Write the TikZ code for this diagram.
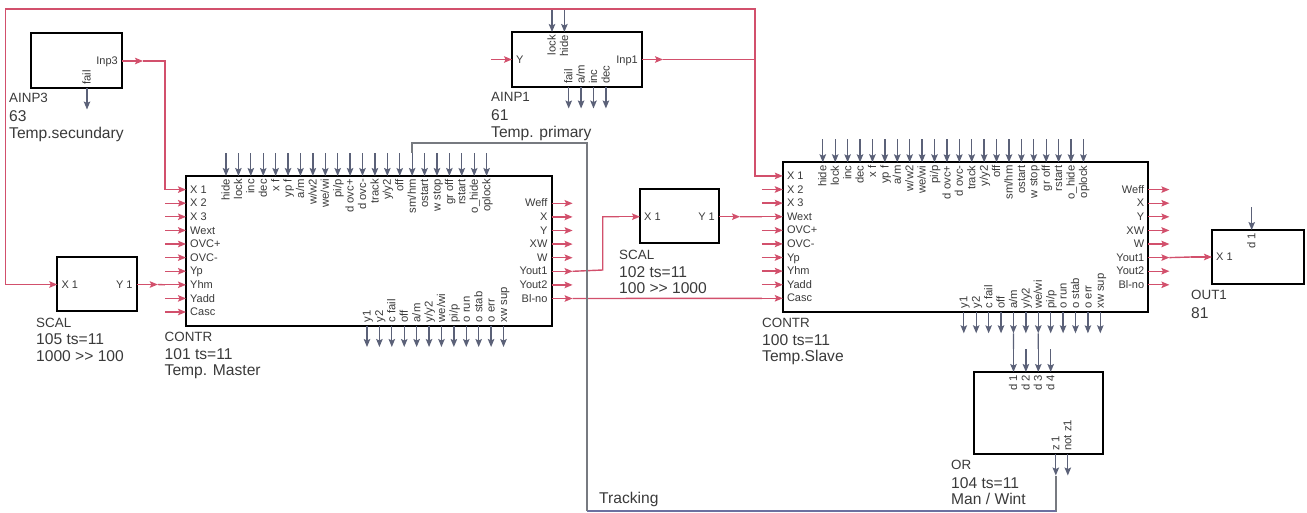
\documentclass[tikz,border=0pt]{standalone}
\usepackage{fontspec}
\setmainfont{Liberation Sans}
\usetikzlibrary{positioning,calc,arrows.meta}
\definecolor{wirered}{HTML}{D2506C}
\definecolor{wiregray}{HTML}{777A80}
\definecolor{wireblue}{HTML}{6C70A0}
\definecolor{pingray}{HTML}{5B6178}
\definecolor{txtgray}{HTML}{3A3A3A}
\tikzset{
  blockbox/.style={draw=black,line width=2pt,outer sep=0pt,inner sep=0pt,fill=white},
  redpin/.style={draw=wirered,fill=wirered,line width=1.3pt,-{Stealth[length=8pt,width=6.5pt,inset=1.5pt]}},
  graypin/.style={draw=pingray,fill=pingray,line width=1.3pt,-{Stealth[length=8pt,width=6.5pt,inset=1.5pt]}},
  redwire/.style={draw=wirered,line width=1.4pt},
  trackwire/.style={draw=wiregray,line width=1.4pt},
  pinlab/.style={font=\fontsize{11}{12}\selectfont,text=txtgray,inner sep=0pt},
  pinvert/.style={font=\fontsize{11.3}{12}\selectfont,text=txtgray,inner sep=0pt,rotate=90},
  capname/.style={font=\fontsize{13.4}{15}\selectfont,text=txtgray,inner sep=0pt,anchor=mid west,yshift=-2pt},
  captext/.style={font=\fontsize{15.6}{17}\selectfont,text=txtgray,inner sep=0pt,anchor=mid west,yshift=-2pt},
}
% pin macros: block, pin, label, offset along the edge
\newcommand{\inpin}[4]{
  \coordinate (#1-#2) at ($(#1.north west)+(0,#4)$);
  \coordinate (#1-#2-s) at ($(#1-#2)+(-21,0)$);
  \draw[redpin] (#1-#2-s) -- (#1-#2);
  \node[pinlab,anchor=mid west] (#1-#2-l) at ($(#1-#2)+(4,1)$) {#3};
}
\newcommand{\outpin}[4]{
  \coordinate (#1-#2) at ($(#1.north east)+(0,#4)$);
  \coordinate (#1-#2-e) at ($(#1-#2)+(21,0)$);
  \draw[redpin] (#1-#2) -- (#1-#2-e);
  \node[pinlab,anchor=mid east] (#1-#2-l) at ($(#1-#2)+(-4,1)$) {#3};
}
\newcommand{\toppin}[4]{
  \coordinate (#1-#2) at ($(#1.north west)+(#4,0)$);
  \coordinate (#1-#2-s) at ($(#1-#2)+(0,-23)$);
  \draw[graypin] (#1-#2-s) -- (#1-#2);
  \node[pinvert,anchor=mid east] (#1-#2-l) at ($(#1-#2)+(1,3)$) {#3};
}
\newcommand{\botpin}[4]{
  \coordinate (#1-#2) at ($(#1.south west)+(#4,0)$);
  \coordinate (#1-#2-e) at ($(#1-#2)+(0,21.5)$);
  \draw[graypin] (#1-#2) -- (#1-#2-e);
  \node[pinvert,anchor=mid west] (#1-#2-l) at ($(#1-#2)+(1,-3)$) {#3};
}
% controller block with its full set of pins
\newcommand{\contrblock}[3]{
  \node[blockbox,anchor=north west,minimum width=365.6pt,minimum height=149.5pt] (#1) at (#2,#3) {};
  \foreach \lbl [count=\i] in {X 1,X 2,X 3,Wext,OVC+,OVC-,Yp,Yhm,Yadd,Casc} {
    \inpin{#1}{in\i}{\lbl}{0.0+13.6*\i}
  }
  \foreach \lbl [count=\i] in {Weff,X,Y,XW,W,Yout1,Yout2,Bl-no} {
    \outpin{#1}{out\i}{\lbl}{13.7+13.6*\i}
  }
  \foreach \lbl [count=\i from 0] in {hide,lock,inc,dec,x f,yp f,a/m,w/w2,we/wi,pi/p,d ovc+,d ovc-,track,y/y2,off,sm/hm,ostart,w stop,gr off,rstart,o\_hide,oplock} {
    \toppin{#1}{top\i}{\lbl}{40+12.41*\i}
  }
  \foreach \lbl [count=\i from 0] in {y1,y2,c fail,off,a/m,y/y2,we/wi,pi/p,o run,o stab,o err,xw sup} {
    \botpin{#1}{bot\i}{\lbl}{181+12.41*\i}
  }
}
\begin{document}
\begin{tikzpicture}[x=1pt,y=-1pt]
\useasboundingbox (0,0) rectangle (1307,512);
% corner points of the long wires
\coordinate (trk-sw) at (587,511);
\coordinate (trk-nw) at (587,143);
\coordinate (top-ne) at (755,9);
\coordinate (top-nw) at (5.5,9);
\coordinate (j-inp1) at (755,59.5);
\coordinate (j-yout) at (602.7,270);
% analog inputs
\node[blockbox,anchor=north west,minimum width=91.5pt,minimum height=55pt] (ainp3) at (30.5,33) {};
\outpin{ainp3}{inp}{Inp3}{28}
\botpin{ainp3}{fail}{fail}{56.5}
\node[capname] (ainp3-n) at (9,98) {AINP3};
\node[captext] (ainp3-a) at (9,117) {63};
\node[captext] (ainp3-b) at (9,134) {Temp.secundary};
\node[blockbox,anchor=north west,minimum width=130pt,minimum height=55pt] (ainp1) at (512,32) {};
\inpin{ainp1}{y}{Y}{27.5}
\outpin{ainp1}{inp}{Inp1}{27.5}
\toppin{ainp1}{lock}{lock}{40}
\toppin{ainp1}{hide}{hide}{52.4}
\botpin{ainp1}{fail}{fail}{56.7}
\botpin{ainp1}{am}{a/m}{69.1}
\botpin{ainp1}{inc}{inc}{81.5}
\botpin{ainp1}{dec}{dec}{93.9}
\node[capname] (ainp1-n) at (491,97) {AINP1};
\node[captext] (ainp1-a) at (491,116) {61};
\node[captext] (ainp1-b) at (491,132.5) {Temp. primary};
% scalers
\node[blockbox,anchor=north west,minimum width=79.5pt,minimum height=54pt] (scal105) at (57.3,257) {};
\inpin{scal105}{x}{X 1}{27.5}
\outpin{scal105}{y}{Y 1}{27.5}
\node[capname] (scal105-n) at (36,323) {SCAL};
\node[captext] (scal105-a) at (36,340) {105 ts=11};
\node[captext] (scal105-b) at (36,357) {1000 >{}> 100};
\node[blockbox,anchor=north west,minimum width=79pt,minimum height=54pt] (scal102) at (640,189) {};
\inpin{scal102}{x}{X 1}{27.7}
\outpin{scal102}{y}{Y 1}{27.7}
\node[capname] (scal102-n) at (619,255) {SCAL};
\node[captext] (scal102-a) at (619,273) {102 ts=11};
\node[captext] (scal102-b) at (619,289) {100 >{}> 1000};
% controllers
\contrblock{c101}{186}{176}
\node[capname] (c101-n) at (164.5,336.5) {CONTR};
\node[captext] (c101-a) at (164.5,354.5) {101 ts=11};
\node[captext] (c101-b) at (164.5,371) {Temp. Master};
\contrblock{c100}{782.8}{162.3}
\node[capname] (c100-n) at (762,323) {CONTR};
\node[captext] (c100-a) at (762,341) {100 ts=11};
\node[captext] (c100-b) at (762,357) {Temp.Slave};
% or gate and output
\node[blockbox,anchor=north west,minimum width=129pt,minimum height=82pt] (or104) at (974,372) {};
\toppin{or104}{d1}{d 1}{39.5}
\toppin{or104}{d2}{d 2}{51.9}
\toppin{or104}{d3}{d 3}{64.3}
\toppin{or104}{d4}{d 4}{76.7}
\botpin{or104}{z1}{z 1}{81.8}
\botpin{or104}{nz1}{not z1}{93.8}
\node[capname] (or104-n) at (951,465) {OR};
\node[captext] (or104-a) at (951,484) {104 ts=11};
\node[captext] (or104-b) at (951,500) {Man / Wint};
\node[blockbox,anchor=north west,minimum width=92pt,minimum height=54pt] (out1) at (1212,230) {};
\inpin{out1}{x}{X 1}{27}
\toppin{out1}{d1}{d 1}{39.7}
\node[capname] (out1-n) at (1191,295) {OUT1};
\node[captext] (out1-a) at (1191,314) {81};
% wires between the blocks
\draw[redwire] (ainp3-inp-e) -| (c101-in1-s);
\draw[redwire] (scal105-y-e) -- (c101-in8-s);
\draw[redwire] (ainp1-inp-e) -- (j-inp1) |- (c100-in1-s);
\draw[redwire] (j-inp1) -- (top-ne) -- (top-nw) |- (scal105-x-s);
\draw[redwire] (c101-out6-e) -- (j-yout) |- (scal102-x-s);
\draw[redwire] (scal102-y-e) -- (c100-in4-s);
\draw[redwire] (c101-out8-e) -- (c100-in10-s);
\draw[redwire] (c100-out6-e) -- (out1-x-s);
\draw[graypin,-] (c100-bot4-e) -- (or104-d1-s);
\draw[graypin,-] (c100-bot6-e) -- (or104-d3-s);
\draw[trackwire] (or104-z1-e) |- (trk-sw);
\draw[trackwire,draw=wireblue] (or104-z1-e |- trk-sw) -- (trk-sw);
\draw[trackwire] (trk-sw) -- (trk-nw) -| (c101-top15-s);
\node[captext] (track-l) at (599,499) {Tracking};
\end{tikzpicture}
\end{document}
